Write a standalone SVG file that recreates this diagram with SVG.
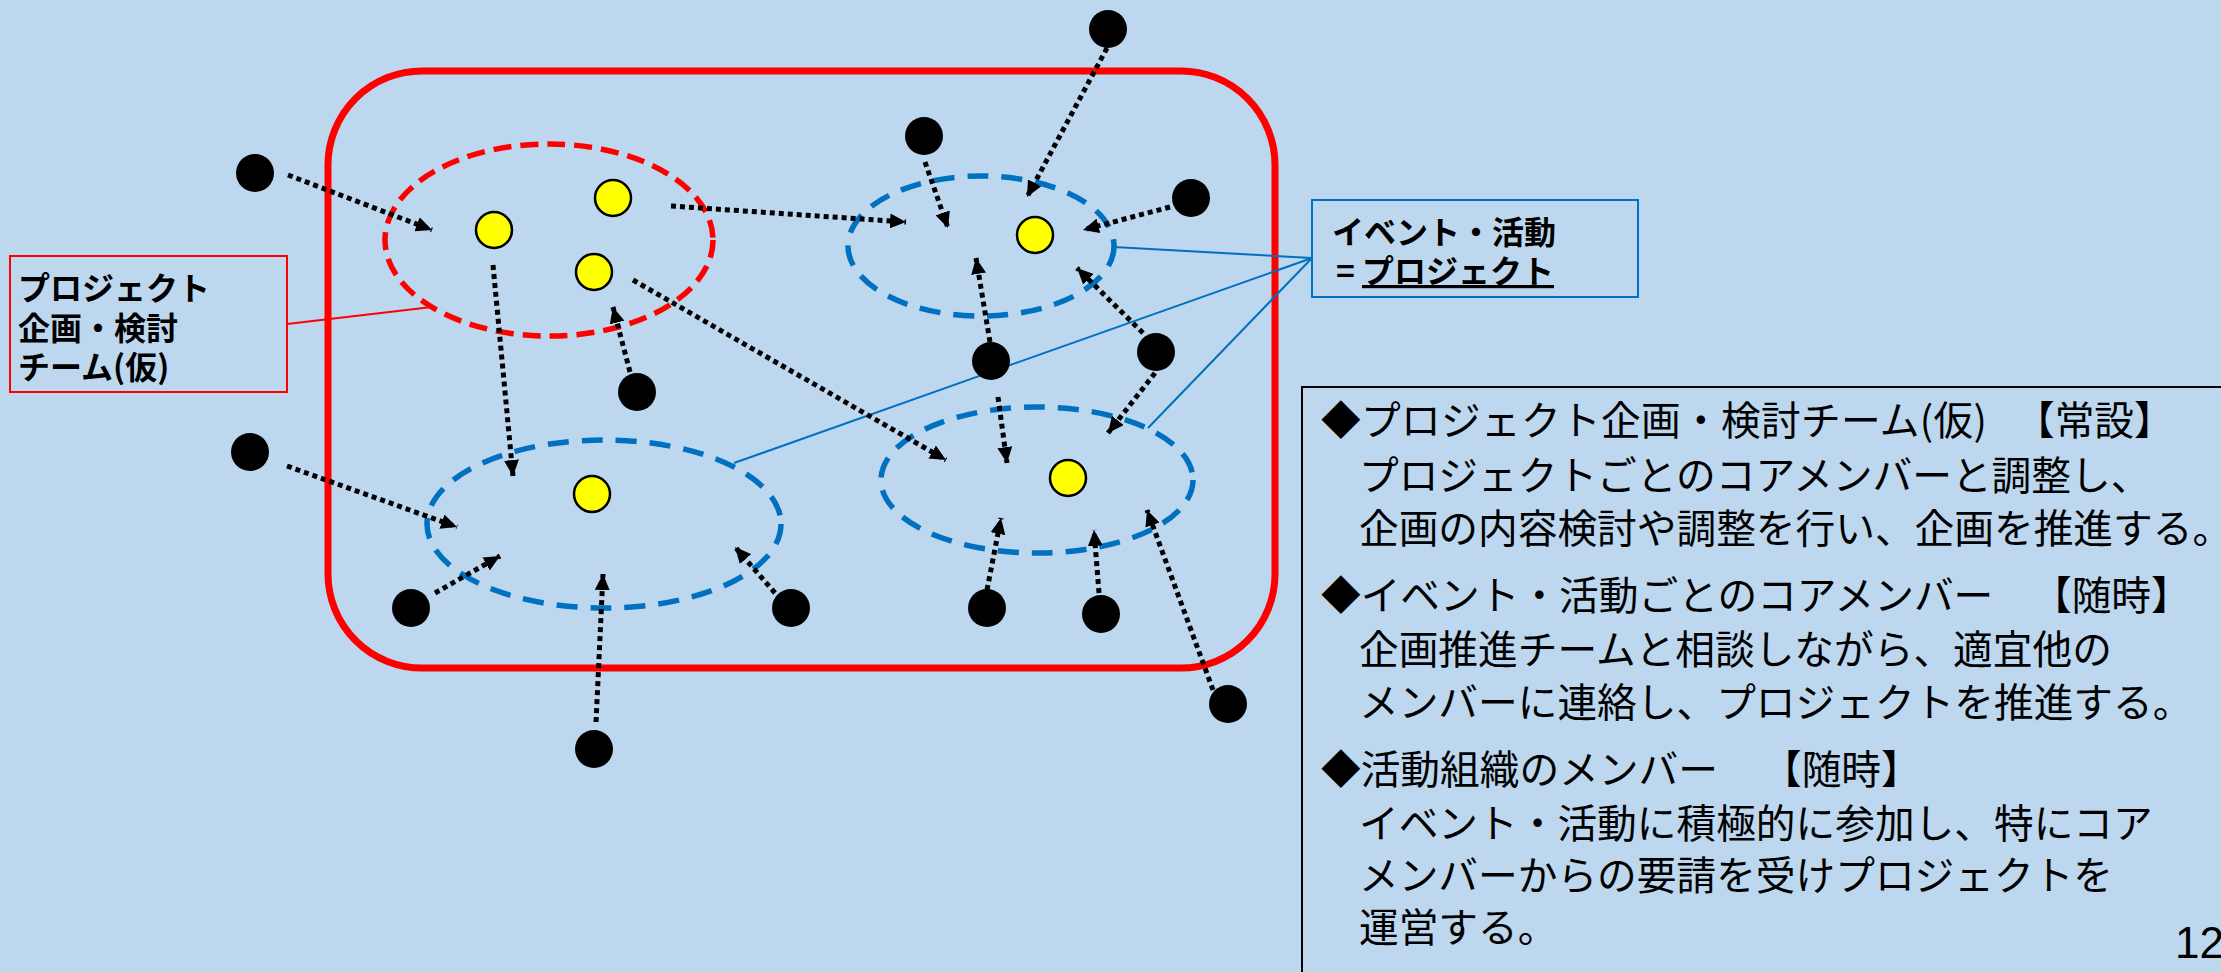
<svg xmlns="http://www.w3.org/2000/svg" width="2221" height="972" viewBox="0 0 2221 972">
<defs>
<style>
.bg{fill:#BDD7EE}
.blk{fill:#000}
.yel{fill:#FFFF00;stroke:#000;stroke-width:2.5}
.dot{fill:none;stroke:#000;stroke-width:5;stroke-dasharray:5 4;marker-end:url(#ah)}
.blue{fill:none;stroke:#0070C0;stroke-width:5.5;stroke-dasharray:21 13}
.lead{fill:none;stroke:#0070C0;stroke-width:2}
.jp{font-family:"Noto Sans CJK JP","Noto Sans CJK SC",sans-serif;fill:#000}
.lbl{font-size:32px;font-weight:700}
.body{font-size:39.7px}
</style>
<marker id="ah" markerUnits="userSpaceOnUse" markerWidth="17" markerHeight="15" refX="16" refY="7.5" orient="auto">
<path d="M0,0 L16,7.5 L0,15 z" fill="#000"/>
</marker>
</defs>
<rect class="bg" x="0" y="0" width="2221" height="972"/>

<g id="frame">
<rect x="328" y="71" width="947" height="597" rx="94" ry="94" fill="none" stroke="#FF0000" stroke-width="7"/>
</g>

<g id="team-ellipse">
<ellipse cx="549" cy="240" rx="164" ry="96" fill="none" stroke="#FF0000" stroke-width="5.5" stroke-dasharray="18 9"/>
</g>
<g id="project-tr"><ellipse class="blue" cx="981" cy="246" rx="133" ry="70"/></g>
<g id="project-bl"><ellipse class="blue" cx="604" cy="524" rx="177" ry="84"/></g>
<g id="project-br"><ellipse class="blue" cx="1037" cy="480" rx="156" ry="73"/></g>

<g id="leaders">
<line x1="287" y1="324" x2="432" y2="307" stroke="#FF0000" stroke-width="2"/>
<line class="lead" x1="1114" y1="247" x2="1312" y2="258"/>
<line class="lead" x1="734" y1="463" x2="1312" y2="258"/>
<line class="lead" x1="1148" y1="428" x2="1312" y2="258"/>
</g>

<g id="connectors">
<line class="dot" x1="288" y1="175" x2="432" y2="230"/>
<line class="dot" x1="671" y1="206" x2="906" y2="222"/>
<line class="dot" x1="1107" y1="48" x2="1027" y2="197"/>
<line class="dot" x1="925" y1="162" x2="948" y2="228"/>
<line class="dot" x1="1170" y1="207" x2="1083" y2="230"/>
<line class="dot" x1="990" y1="342" x2="976" y2="258"/>
<line class="dot" x1="1143" y1="333" x2="1077" y2="268"/>
<line class="dot" x1="493" y1="265" x2="513" y2="476"/>
<line class="dot" x1="630" y1="372" x2="613" y2="307"/>
<line class="dot" x1="633" y1="280" x2="946" y2="460"/>
<line class="dot" x1="287" y1="466" x2="457" y2="527"/>
<line class="dot" x1="435" y1="593" x2="500" y2="556"/>
<line class="dot" x1="775" y1="593" x2="735" y2="547"/>
<line class="dot" x1="596" y1="722" x2="603" y2="574"/>
<line class="dot" x1="998" y1="397" x2="1007" y2="463"/>
<line class="dot" x1="1155" y1="373" x2="1108" y2="433"/>
<line class="dot" x1="987" y1="590" x2="1001" y2="518"/>
<line class="dot" x1="1099" y1="593" x2="1094" y2="530"/>
<line class="dot" x1="1213" y1="690" x2="1147" y2="510"/>
</g>

<g id="core-members">
<circle class="yel" cx="494" cy="230" r="18"/>
<circle class="yel" cx="613" cy="198" r="18"/>
<circle class="yel" cx="594" cy="272" r="18"/>
<circle class="yel" cx="1035" cy="235" r="18"/>
<circle class="yel" cx="592" cy="494" r="18"/>
<circle class="yel" cx="1068" cy="478" r="18"/>
</g>

<g id="members">
<circle class="blk" cx="255" cy="173" r="19"/>
<circle class="blk" cx="1108" cy="29" r="19"/>
<circle class="blk" cx="924" cy="136" r="19"/>
<circle class="blk" cx="1191" cy="198" r="19"/>
<circle class="blk" cx="250" cy="452" r="19"/>
<circle class="blk" cx="637" cy="392" r="19"/>
<circle class="blk" cx="991" cy="361" r="19"/>
<circle class="blk" cx="1156" cy="352" r="19"/>
<circle class="blk" cx="411" cy="608" r="19"/>
<circle class="blk" cx="791" cy="608" r="19"/>
<circle class="blk" cx="987" cy="608" r="19"/>
<circle class="blk" cx="1101" cy="614" r="19"/>
<circle class="blk" cx="1228" cy="704" r="19"/>
<circle class="blk" cx="594" cy="749" r="19"/>
</g>

<g id="team-label">
<rect x="10" y="256" width="277" height="136" fill="none" stroke="#FF0000" stroke-width="2"/>
<text class="jp lbl" x="18" y="300">プロジェクト</text>
<text class="jp lbl" x="18" y="340">企画・検討</text>
<text class="jp lbl" x="18" y="379">チーム(仮)</text>
</g>

<g id="project-label">
<rect x="1312" y="200" width="326" height="97" fill="none" stroke="#0070C0" stroke-width="2"/>
<text class="jp lbl" x="1332" y="244">イベント・活動</text>
<text class="jp lbl" x="1336" y="283">=<tspan x="1362" text-decoration="underline">プロジェクト</tspan></text>
</g>

<g id="legend">
<rect x="1302" y="387" width="1000" height="700" fill="none" stroke="#000" stroke-width="2"/>
<text class="jp body" x="1321" y="435" textLength="666" lengthAdjust="spacing">◆プロジェクト企画・検討チーム(仮)</text>
<text class="jp body" x="2015" y="435">【常設】</text>
<text class="jp body" x="1359" y="490">プロジェクトごとのコアメンバーと調整し、</text>
<text class="jp body" x="1359" y="543">企画の内容検討や調整を行い、企画を推進する。</text>
<text class="jp body" x="1321" y="610">◆イベント・活動ごとのコアメンバー<tspan x="2032">【随時】</tspan></text>
<text class="jp body" x="1359" y="664">企画推進チームと相談しながら、適宜他の</text>
<text class="jp body" x="1359" y="717">メンバーに連絡し、プロジェクトを推進する。</text>
<text class="jp body" x="1321" y="784">◆活動組織のメンバー<tspan x="1762">【随時】</tspan></text>
<text class="jp body" x="1359" y="838">イベント・活動に積極的に参加し、特にコア</text>
<text class="jp body" x="1359" y="890">メンバーからの要請を受けプロジェクトを</text>
<text class="jp body" x="1359" y="942">運営する。</text>
</g>

<g id="page-number">
<text x="2175" y="958" font-family="'Liberation Sans',Arial,sans-serif" font-size="44" fill="#000">12</text>
</g>
</svg>
